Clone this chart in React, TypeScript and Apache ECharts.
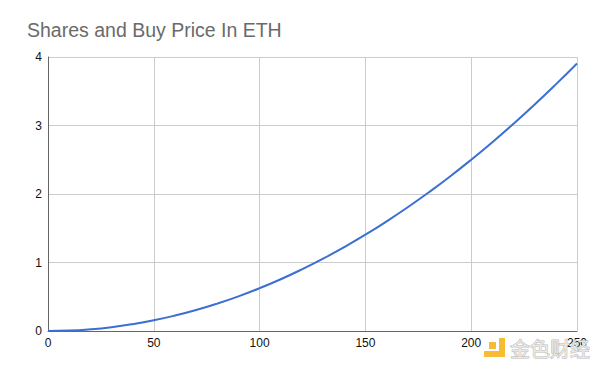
import React, { useEffect, useRef } from "react";
import * as echarts from "echarts";

const TITLE = "Shares and Buy Price In ETH";
const shares = [0, 10, 20, 30, 40, 50, 60, 70, 80, 90, 100, 110, 120, 130, 140, 150, 160, 170, 180, 190, 200, 210, 220, 230, 240, 250];
const priceEth = [0, 0.006, 0.025, 0.056, 0.1, 0.156, 0.225, 0.306, 0.4, 0.506, 0.625, 0.756, 0.9, 1.056, 1.225, 1.406, 1.6, 1.806, 2.025, 2.256, 2.5, 2.756, 3.025, 3.306, 3.6, 3.906];
const WATERMARK = "金色财经";

export default function App() {
  const ref = useRef<HTMLDivElement>(null);
  useEffect(() => {
    if (!ref.current) return;
    const chart = echarts.init(ref.current, null, { renderer: "svg" });
    const font = "Arial, 'Liberation Sans', sans-serif";
    const border = { stroke: "#6e6e6e", lineWidth: 1.6 };
    chart.setOption({
      animation: false,
      backgroundColor: "#ffffff",
      title: {
        text: TITLE,
        left: 22,
        top: 15,
        textStyle: { color: "#6a6a6a", fontSize: 19.5, fontWeight: "normal", fontFamily: font },
      },
      grid: { left: 48, right: 23, top: 57, bottom: 41, containLabel: false },
      xAxis: {
        type: "value",
        min: 0,
        max: 250,
        interval: 50,
        axisLine: { show: true, lineStyle: { color: "#666666", width: 1 } },
        axisTick: { show: false },
        axisLabel: { color: "#111111", fontSize: 12, fontFamily: font, margin: 6 },
        splitLine: { show: true, lineStyle: { color: "#cccccc", width: 1 } },
      },
      yAxis: {
        type: "value",
        min: 0,
        max: 4,
        interval: 1,
        axisLine: { show: true, lineStyle: { color: "#666666", width: 1 } },
        axisTick: { show: false },
        axisLabel: { color: "#111111", fontSize: 12, fontFamily: font, margin: 6 },
        splitLine: { show: true, lineStyle: { color: "#cccccc", width: 1 } },
      },
      series: [
        {
          type: "line",
          data: shares.map((s, i) => [s, priceEth[i]]),
          smooth: true,
          showSymbol: false,
          lineStyle: { color: "#3b6fd1", width: 2 },
          z: 5,
        },
      ],
      graphic: {
        elements: [
          { type: "line", shape: { x1: 4, y1: 1, x2: 4, y2: 367 }, style: border, silent: true, z: 100 },
          { type: "line", shape: { x1: 595, y1: 1, x2: 595, y2: 367 }, style: border, silent: true, z: 100 },
          { type: "line", shape: { x1: 4, y1: 367, x2: 595, y2: 367 }, style: border, silent: true, z: 100 },
          { type: "line", shape: { x1: 4, y1: 1, x2: 595, y2: 1 }, style: border, silent: true, z: 100 },
          {
            type: "rect",
            shape: { x: 489, y: 342, width: 7, height: 7 },
            style: { fill: "#f5b51e", opacity: 0.9 },
            silent: true,
          },
          {
            type: "polygon",
            shape: { points: [[499, 338], [505, 338], [505, 357], [484, 357], [484, 351], [499, 351]] },
            style: { fill: "#f5b51e", opacity: 0.9 },
            silent: true,
          },
          {
            type: "text",
            x: 510,
            y: 348,
            style: {
              text: WATERMARK,
              fontSize: 20,
              fontFamily: "'Noto Sans CJK SC', sans-serif",
              fill: "rgba(235,235,235,0.9)",
              stroke: "rgba(170,170,170,0.8)",
              lineWidth: 1,
              verticalAlign: "middle",
            },
            silent: true,
            z: 10,
          },
        ],
      },
    });
    return () => chart.dispose();
  }, []);
  return <div ref={ref} style={{ width: 600, height: 372, margin: -8 }} />;
}
